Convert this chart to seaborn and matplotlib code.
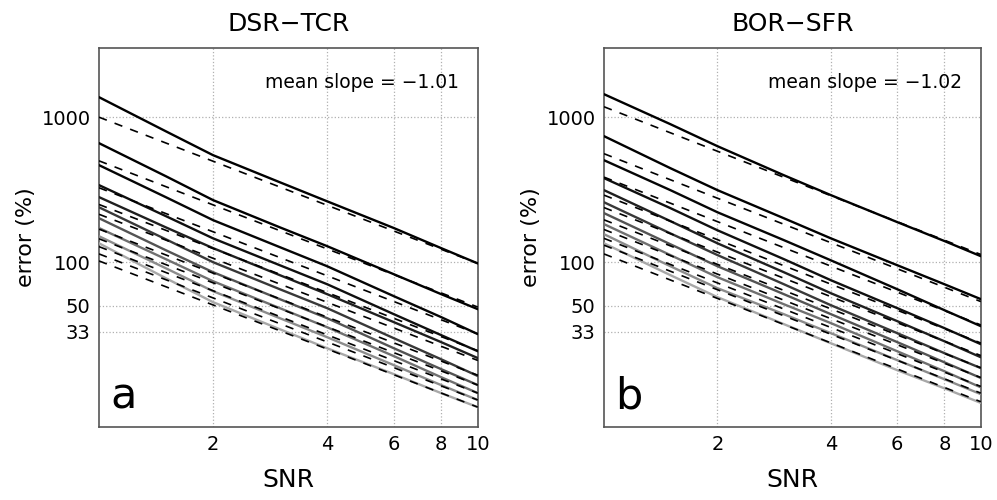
import matplotlib
matplotlib.use("Agg")
import matplotlib.pyplot as plt
import numpy as np
import pandas as pd
import seaborn as sns
from matplotlib.ticker import NullLocator

sns.set_theme(style="white", context="notebook")
plt.rcParams["font.family"] = ["DejaVu Sans"]
plt.rcParams["text.color"] = "black"
plt.rcParams["axes.labelcolor"] = "black"
plt.rcParams["xtick.color"] = "black"
plt.rcParams["ytick.color"] = "black"

# SNR sample points shared by all curves
snr = [1, 1.5, 2, 3, 4, 6, 8, 10]

# panel a: DSR-TCR, error (%) of each curve, top to bottom
dsr_tcr = [
    [1374, 800, 547, 356, 263, 172, 125, 98],
    [662, 392, 268, 174, 129, 82.6, 60.2, 47.4],
    [467, 281, 195, 127, 93.8, 58.3, 41.8, 31.9],
    [340, 208, 146, 95.3, 70.5, 43.8, 31.4, 24.3],
    [281, 174, 125, 81.4, 60.2, 38.6, 28.1, 21.8],
    [239, 144, 100, 65.1, 48.2, 29.9, 21.4, 16.4],
    [201, 121, 85.3, 55.6, 41.1, 25.5, 18.3, 14.2],
    [172, 105, 73.9, 48.2, 35.6, 22.5, 16.1, 12.5],
    [151, 90.9, 63.1, 41.1, 30.4, 19.5, 14.2, 11.2],
    [135, 77.6, 53.0, 34.5, 25.5, 16.9, 12.5, 10.0],
]
# fitted power laws, value at SNR=1 and SNR=10
dsr_tcr_fit_start = [1000, 500, 326, 250, 214, 169, 145, 128, 114, 102]
dsr_tcr_fit_end = [98, 49, 32, 24.5, 21, 16.6, 14.2, 12.5, 11.2, 10]

# panel b: BOR-SFR
bor_sfr = [
    [1441, 895, 631, 398, 290, 189, 140, 110],
    [740, 445, 314, 201, 146, 95.3, 70.5, 55.6],
    [505, 314, 221, 142, 103, 65.1, 46.7, 36.2],
    [380, 236, 166, 105, 75.1, 48.2, 35.1, 27.2],
    [314, 192, 135, 85.3, 61.1, 39.2, 28.5, 22.1],
    [259, 158, 112, 70.5, 50.5, 32.4, 23.6, 18.6],
    [218, 133, 93.8, 60.2, 43.8, 28.1, 20.4, 15.9],
    [183, 112, 78.8, 51.3, 38.0, 24.3, 17.7, 13.7],
    [156, 93.8, 66.2, 43.8, 32.4, 21.1, 15.6, 12.3],
    [135, 81.4, 57.4, 37.4, 27.6, 18.0, 13.5, 10.7],
]
bor_sfr_fit_start = [1180, 560, 386, 290, 238, 196, 168, 146, 131, 114]
bor_sfr_fit_end = [113, 53.5, 36.9, 27.7, 22.7, 18.7, 16.0, 13.9, 12.5, 10.9]

fit_snr = [1, 10]
titles = ["DSR\u2212TCR", "BOR\u2212SFR"]
slopes = ["mean slope = \u22121.01", "mean slope = \u22121.02"]
letters = ["a", "b"]
x_ticks = [2, 4, 6, 8, 10]
y_ticks = [33, 50, 100, 1000]

grises = [0.0, 0.0, 0.02, 0.06, 0.12, 0.22, 0.33, 0.44, 0.55, 0.66]
colores = [(g, g, g) for g in grises]


def panel(ax, curvas, fit_ini, fit_fin, titulo, texto, letra):
    filas = []
    for i, curva in enumerate(curvas):
        for x, y in zip(snr, curva):
            filas.append({"snr": x, "error": y, "curva": i})
    df = pd.DataFrame(filas)

    sns.lineplot(data=df, x="snr", y="error", hue="curva", palette=colores,
                 estimator=None, sort=False, linewidth=1.7, legend=False,
                 ax=ax, zorder=3)

    for y0, y1 in zip(fit_ini, fit_fin):
        sns.lineplot(x=fit_snr, y=[y0, y1], color="black", linewidth=1.2,
                     ax=ax, zorder=4)
        ax.lines[-1].set_dashes((5, 5))

    ax.set_xscale("log")
    ax.set_yscale("log")
    ax.set_xlim(1, 10)
    ax.set_ylim(7.3, 3000)
    ax.set_xticks(x_ticks, [str(t) for t in x_ticks])
    ax.set_yticks(y_ticks, [str(t) for t in y_ticks])
    ax.xaxis.set_minor_locator(NullLocator())
    ax.yaxis.set_minor_locator(NullLocator())
    ax.tick_params(length=0, labelsize=14, pad=6)
    ax.grid(True, linestyle=":", color="#b0b0b0", linewidth=0.9)
    for s in ax.spines.values():
        s.set_color("#555555")
        s.set_linewidth(1.2)

    ax.set_xlabel("SNR", fontsize=18, labelpad=10)
    ax.set_ylabel("error (%)", fontsize=16, labelpad=4)
    ax.set_title(titulo, fontsize=18, pad=12)
    ax.text(0.95, 0.91, texto, transform=ax.transAxes, ha="right",
            va="center", fontsize=13.5)
    ax.text(0.03, 0.025, letra, transform=ax.transAxes, ha="left",
            va="bottom", fontsize=31)


fig = plt.figure(figsize=(9.97, 5.0), dpi=100)
ax_a = fig.add_axes([0.0993, 0.146, 0.380, 0.758])
ax_b = fig.add_axes([0.6058, 0.146, 0.378, 0.758])

panel(ax_a, dsr_tcr, dsr_tcr_fit_start, dsr_tcr_fit_end,
      titles[0], slopes[0], letters[0])
panel(ax_b, bor_sfr, bor_sfr_fit_start, bor_sfr_fit_end,
      titles[1], slopes[1], letters[1])

fig.savefig("out.png", dpi=100)
plt.close(fig)
